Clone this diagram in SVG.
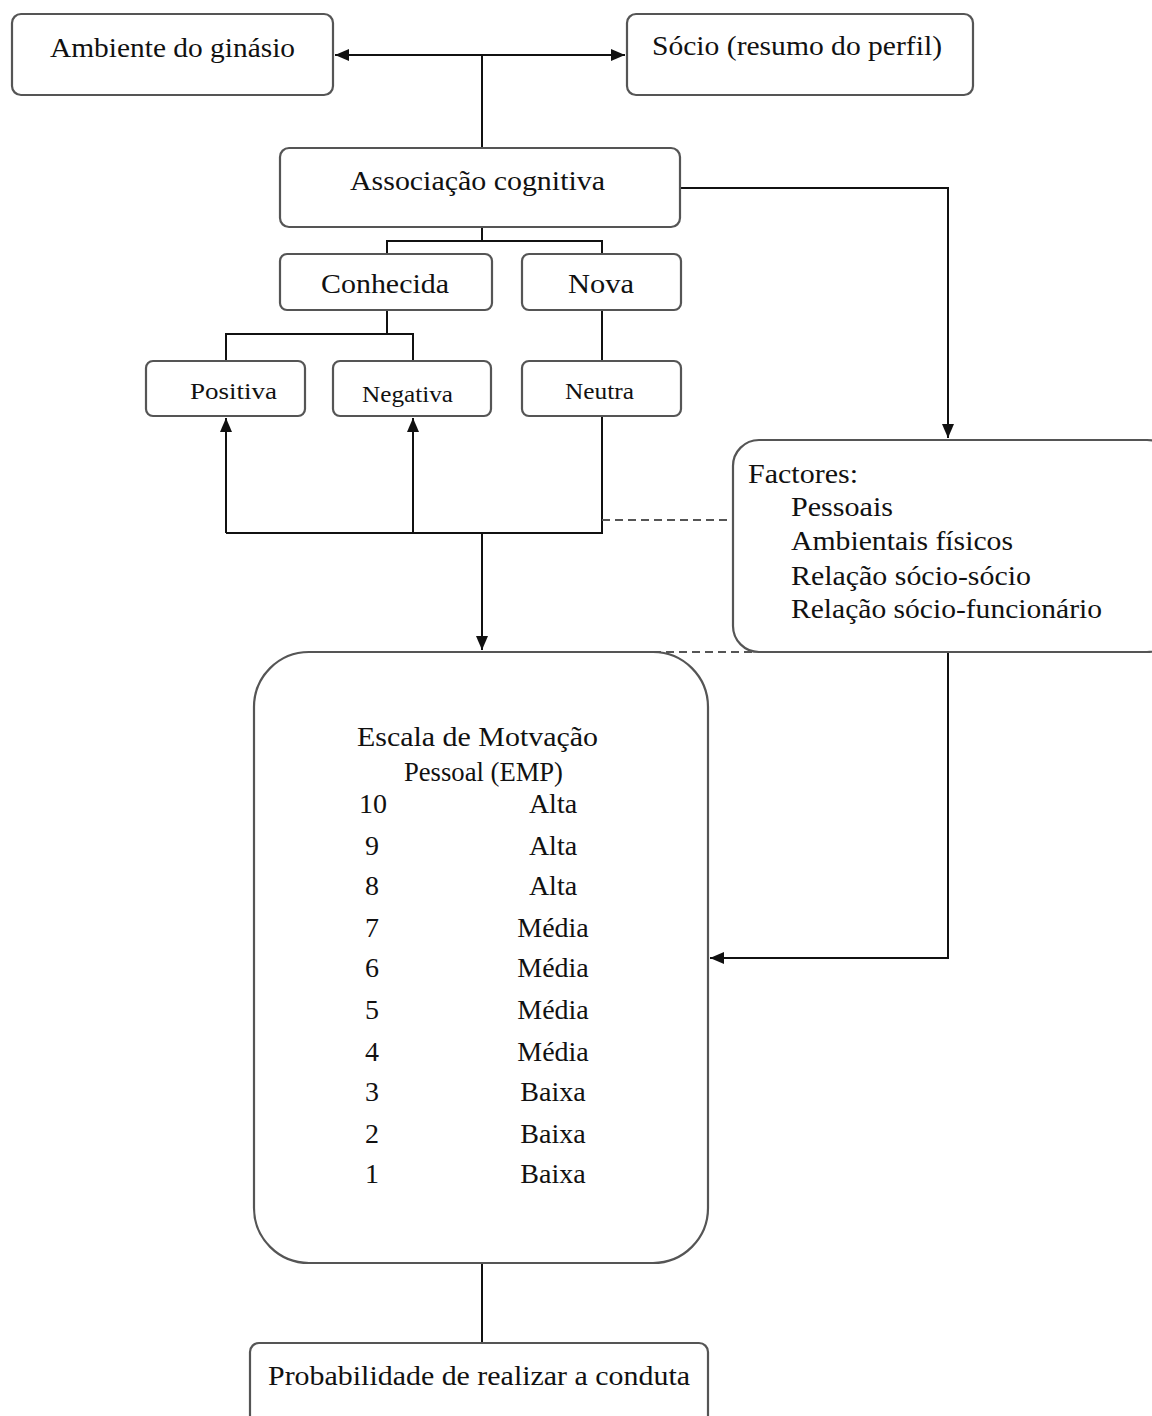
<svg xmlns="http://www.w3.org/2000/svg" width="1152" height="1416" viewBox="0 0 1152 1416">
<style>
.box{fill:#fff;stroke:#555;stroke-width:2.2}
.ln{fill:none;stroke:#111;stroke-width:2}
.dash{fill:none;stroke:#555;stroke-width:2;stroke-dasharray:8 5}
text{font-family:"Liberation Serif","Times New Roman",serif;fill:#111;font-size:28px}
.sm{font-size:23px}
.mid{text-anchor:middle}
</style>
<defs>
<marker id="ah" viewBox="0 0 14 12" refX="14" refY="6" markerWidth="14" markerHeight="12" markerUnits="userSpaceOnUse" orient="auto">
<path d="M0,0 L14,6 L0,12 Z" fill="#111"/>
</marker>
</defs>
<rect width="1152" height="1416" fill="#fff"/>
<g id="connectors">
<line class="ln" x1="482" y1="55" x2="335" y2="55" marker-end="url(#ah)"/>
<line class="ln" x1="482" y1="55" x2="625" y2="55" marker-end="url(#ah)"/>
<line class="ln" x1="482" y1="55" x2="482" y2="148"/>
<polyline class="ln" points="680,188 948,188 948,438" marker-end="url(#ah)"/>
<polyline class="ln" points="482,227 482,241"/>
<polyline class="ln" points="387,254 387,241 602,241 602,254"/>
<polyline class="ln" points="387,310 387,334"/>
<polyline class="ln" points="226,361 226,334 413,334 413,361"/>
<line class="ln" x1="602" y1="310" x2="602" y2="361"/>
<line class="ln" x1="226" y1="533" x2="226" y2="418" marker-end="url(#ah)"/>
<line class="ln" x1="413" y1="533" x2="413" y2="418" marker-end="url(#ah)"/>
<polyline class="ln" points="602,416 602,533 226,533"/>
<line class="ln" x1="482" y1="533" x2="482" y2="650" marker-end="url(#ah)"/>
<line class="dash" x1="602" y1="520" x2="733" y2="520"/>
<line class="dash" x1="627" y1="652" x2="755" y2="652"/>
<polyline class="ln" points="948,652 948,958 710,958" marker-end="url(#ah)"/>
<line class="ln" x1="482" y1="1263" x2="482" y2="1343"/>
</g>
<g id="ambiente">
<rect class="box" x="12" y="14" width="321" height="81" rx="9"/>
<text x="50" y="57" textLength="245" lengthAdjust="spacingAndGlyphs">Ambiente do ginásio</text>
</g>
<g id="socio">
<rect class="box" x="627" y="14" width="346" height="81" rx="9"/>
<text x="652" y="55" textLength="290" lengthAdjust="spacingAndGlyphs">Sócio (resumo do perfil)</text>
</g>
<g id="associacao">
<rect class="box" x="280" y="148" width="400" height="79" rx="9"/>
<text x="350" y="190" textLength="255" lengthAdjust="spacingAndGlyphs">Associação cognitiva</text>
</g>
<g id="conhecida">
<rect class="box" x="280" y="254" width="212" height="56" rx="7"/>
<text x="321" y="293" textLength="128" lengthAdjust="spacingAndGlyphs">Conhecida</text>
</g>
<g id="nova">
<rect class="box" x="522" y="254" width="159" height="56" rx="7"/>
<text x="568" y="293" textLength="66" lengthAdjust="spacingAndGlyphs">Nova</text>
</g>
<g id="positiva">
<rect class="box" x="146" y="361" width="159" height="55" rx="7"/>
<text class="sm" x="190" y="399" textLength="87" lengthAdjust="spacingAndGlyphs">Positiva</text>
</g>
<g id="negativa">
<rect class="box" x="333" y="361" width="158" height="55" rx="7"/>
<text class="sm" x="362" y="402" textLength="91" lengthAdjust="spacingAndGlyphs">Negativa</text>
</g>
<g id="neutra">
<rect class="box" x="522" y="361" width="159" height="55" rx="7"/>
<text class="sm" x="565" y="399" textLength="69" lengthAdjust="spacingAndGlyphs">Neutra</text>
</g>
<g id="factores">
<rect class="box" x="733" y="440" width="440" height="212" rx="26"/>
<text x="748" y="483" textLength="110" lengthAdjust="spacingAndGlyphs">Factores:</text>
<text x="791" y="516" textLength="102" lengthAdjust="spacingAndGlyphs">Pessoais</text>
<text x="791" y="550" textLength="222" lengthAdjust="spacingAndGlyphs">Ambientais físicos</text>
<text x="791" y="585" textLength="240" lengthAdjust="spacingAndGlyphs">Relação sócio-sócio</text>
<text x="791" y="618" textLength="311" lengthAdjust="spacingAndGlyphs">Relação sócio-funcionário</text>
</g>
<g id="emp">
<rect class="box" x="254" y="652" width="454" height="611" rx="55"/>
<text x="357" y="746" textLength="241" lengthAdjust="spacingAndGlyphs">Escala de Motvação</text>
<text x="404" y="781" textLength="159" lengthAdjust="spacingAndGlyphs">Pessoal (EMP)</text>
<g class="mid">
<text x="373" y="813">10</text><text x="553" y="813">Alta</text>
<text x="372" y="855">9</text><text x="553" y="855">Alta</text>
<text x="372" y="895">8</text><text x="553" y="895">Alta</text>
<text x="372" y="937">7</text><text x="553" y="937">Média</text>
<text x="372" y="977">6</text><text x="553" y="977">Média</text>
<text x="372" y="1019">5</text><text x="553" y="1019">Média</text>
<text x="372" y="1061">4</text><text x="553" y="1061">Média</text>
<text x="372" y="1101">3</text><text x="553" y="1101">Baixa</text>
<text x="372" y="1143">2</text><text x="553" y="1143">Baixa</text>
<text x="372" y="1183">1</text><text x="553" y="1183">Baixa</text>
</g>
</g>
<g id="probabilidade">
<rect class="box" x="250" y="1343" width="458" height="90" rx="9"/>
<text x="268" y="1385" textLength="422" lengthAdjust="spacingAndGlyphs">Probabilidade de realizar a conduta</text>
</g>
</svg>
